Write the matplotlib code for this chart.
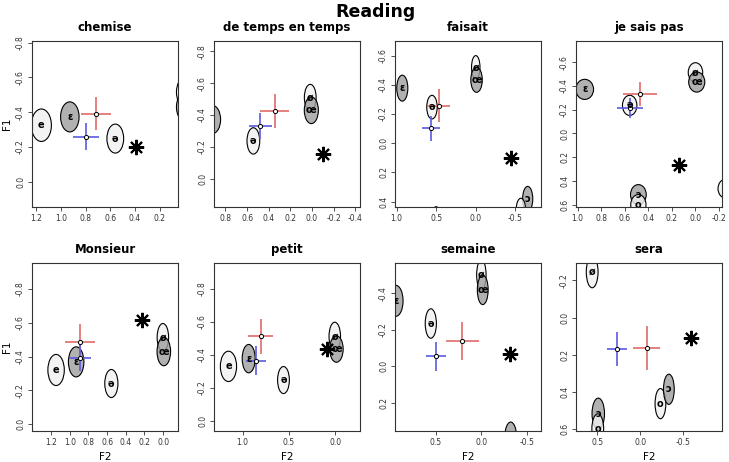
import matplotlib
matplotlib.use('Agg')
import matplotlib.pyplot as plt
from matplotlib.patches import Ellipse
from matplotlib.ticker import FormatStrFormatter

words = ['chemise', 'de temps en temps', 'faisait', 'je sais pas',
         'Monsieur', 'petit', 'semaine', 'sera']

x_limits = [(1.235, 0.05), (0.906, -0.444), (1.02, -0.824), (1.014, -0.229),
            (1.405, -0.159), (1.309, -0.265), (0.943, -0.651), (0.747, -0.951)]
y_limits = [(0.146, -0.81), (0.176, -0.864), (0.437, -0.70), (0.62, -0.78),
            (0.04, -0.954), (0.063, -0.956), (0.354, -0.565), (0.609, -0.293)]
x_ticks = [[1.2, 1.0, 0.8, 0.6, 0.4, 0.2],
           [0.8, 0.6, 0.4, 0.2, 0.0, -0.2, -0.4],
           [1.0, 0.5, 0.0, -0.5],
           [1.0, 0.8, 0.6, 0.4, 0.2, 0.0, -0.2],
           [1.2, 1.0, 0.8, 0.6, 0.4, 0.2, 0.0],
           [1.0, 0.5, 0.0],
           [0.5, 0.0, -0.5],
           [0.5, 0.0, -0.5]]
y_ticks = [[-0.8, -0.6, -0.4, -0.2, 0.0],
           [-0.8, -0.6, -0.4, -0.2, 0.0],
           [-0.6, -0.4, -0.2, 0.0, 0.2, 0.4],
           [-0.6, -0.4, -0.2, 0.0, 0.2, 0.4, 0.6],
           [-0.8, -0.6, -0.4, -0.2, 0.0],
           [-0.8, -0.6, -0.4, -0.2, 0.0],
           [-0.4, -0.2, 0.0, 0.2],
           [-0.2, 0.0, 0.2, 0.4, 0.6]]

# reader means (red) with spread
red_f2 = [0.716, 0.346, 0.467, 0.469, 0.89, 0.807, 0.207, -0.075]
red_f1 = [-0.392, -0.424, -0.258, -0.332, -0.485, -0.511, -0.138, 0.162]
red_f2_err = [0.125, 0.135, 0.147, 0.144, 0.159, 0.135, 0.183, 0.157]
red_f1_err = [0.095, 0.106, 0.11, 0.103, 0.11, 0.104, 0.104, 0.118]

blue_f2 = [0.798, 0.477, 0.565, 0.557, 0.893, 0.855, 0.496, 0.273]
blue_f1 = [-0.26, -0.33, -0.101, -0.214, -0.393, -0.364, -0.055, 0.167]
blue_f2_err = [0.106, 0.106, 0.113, 0.11, 0.118, 0.109, 0.11, 0.114]
blue_f1_err = [0.077, 0.083, 0.088, 0.085, 0.08, 0.086, 0.079, 0.092]

star_f2 = [0.393, -0.103, -0.449, 0.14, 0.223, 0.087, -0.31, -0.586]
star_f1 = [-0.2, -0.159, 0.103, 0.27, -0.617, -0.434, -0.065, 0.112]

# vowel ellipses: label, F2, F1, width, height, shade
chemise_vowels = [('e', 1.159, -0.325, 0.163, 0.187, 'light'),
                  ('ɛ', 0.928, -0.373, 0.15, 0.173, 'dark'),
                  ('ə', 0.559, -0.248, 0.136, 0.167, 'light'),
                  ('ø', 0.0, -0.515, 0.125, 0.165, 'light'),
                  ('œ', -0.01, -0.43, 0.145, 0.17, 'dark')]
de_temps_vowels = [('ɛ', 0.92, -0.372, 0.15, 0.176, 'dark'),
                   ('ə', 0.542, -0.238, 0.118, 0.165, 'light'),
                   ('ø', 0.016, -0.51, 0.109, 0.165, 'light'),
                   ('œ', 0.006, -0.43, 0.13, 0.167, 'dark')]
faisait_vowels = [('ɛ', 0.928, -0.377, 0.14, 0.178, 'dark'),
                  ('ə', 0.553, -0.247, 0.132, 0.162, 'light'),
                  ('ø', 0.0, -0.52, 0.107, 0.16, 'light'),
                  ('œ', -0.01, -0.434, 0.145, 0.171, 'dark'),
                  ('o', 0.50, 0.515, 0.12, 0.16, 'light'),
                  ('ɔ', -0.656, 0.381, 0.128, 0.17, 'dark'),
                  ('o', -0.57, 0.457, 0.12, 0.16, 'light')]
je_sais_vowels = [('ɛ', 0.94, -0.372, 0.151, 0.17, 'dark'),
                  ('ə', 0.557, -0.237, 0.123, 0.17, 'light'),
                  ('ø', -0.003, -0.515, 0.123, 0.164, 'light'),
                  ('œ', -0.014, -0.434, 0.137, 0.17, 'dark'),
                  ('ɔ', 0.483, 0.516, 0.134, 0.17, 'dark'),
                  ('o', 0.483, 0.6, 0.13, 0.17, 'light'),
                  ('o', -0.26, 0.465, 0.13, 0.16, 'light')]
monsieur_vowels = [('e', 1.147, -0.321, 0.176, 0.184, 'light'),
                   ('ɛ', 0.932, -0.369, 0.166, 0.178, 'dark'),
                   ('ə', 0.555, -0.241, 0.141, 0.166, 'light'),
                   ('ø', 0.003, -0.514, 0.123, 0.164, 'light'),
                   ('œ', -0.007, -0.43, 0.145, 0.168, 'dark')]
petit_vowels = [('e', 1.153, -0.329, 0.175, 0.184, 'light'),
                ('ɛ', 0.935, -0.376, 0.14, 0.172, 'dark'),
                ('ə', 0.56, -0.246, 0.127, 0.164, 'light'),
                ('ø', 0.007, -0.511, 0.124, 0.172, 'light'),
                ('œ', -0.011, -0.434, 0.145, 0.16, 'dark')]
semaine_vowels = [('ɛ', 0.935, -0.358, 0.16, 0.17, 'dark'),
                  ('ə', 0.552, -0.234, 0.122, 0.161, 'light'),
                  ('ø', 0.0, -0.5, 0.103, 0.165, 'light'),
                  ('œ', -0.015, -0.418, 0.118, 0.161, 'dark'),
                  ('ɔ', -0.32, 0.39, 0.13, 0.17, 'dark')]
sera_vowels = [('ø', 0.559, -0.245, 0.137, 0.17, 'light'),
               ('ɔ', 0.488, 0.516, 0.145, 0.167, 'dark'),
               ('o', 0.494, 0.597, 0.137, 0.16, 'light'),
               ('o', -0.235, 0.462, 0.125, 0.162, 'light'),
               ('ɔ', -0.333, 0.385, 0.125, 0.162, 'dark')]

all_vowels = [chemise_vowels, de_temps_vowels, faisait_vowels, je_sais_vowels,
              monsieur_vowels, petit_vowels, semaine_vowels, sera_vowels]

shades = {'light': (0.94, 0.94, 0.94, 0.8), 'dark': (0.62, 0.62, 0.62, 0.8)}

W, H = 729, 462
fig = plt.figure(figsize=(W / 100, H / 100), dpi=100)
col_left = [32, 214, 395, 576]
row_top = [41, 263]
row_bot = [207, 431]
ax_w = 146


def inside(v, lim):
    return min(lim) <= v <= max(lim)


for i, word in enumerate(words):
    r, c = divmod(i, 4)
    ax = fig.add_axes([col_left[c] / W, 1 - row_bot[r] / H,
                       ax_w / W, (row_bot[r] - row_top[r]) / H])

    for lab, f2, f1, w, h, shade in all_vowels[i]:
        ax.add_patch(Ellipse((f2, f1), w, h, facecolor=shades[shade],
                             edgecolor='black', lw=0.8))
        # only label ellipses whose centre is in view
        if inside(f2, x_limits[i]) and inside(f1, y_limits[i]):
            ax.text(f2, f1, lab, ha='center', va='center', fontsize=7,
                    fontweight='bold', clip_on=True)

    ax.errorbar(red_f2[i], red_f1[i], xerr=red_f2_err[i], yerr=red_f1_err[i],
                fmt='o', ms=3, mfc='white', mec='black', mew=0.7,
                ecolor='#e06a6a', elinewidth=1.2, capsize=0)
    ax.errorbar(blue_f2[i], blue_f1[i], xerr=blue_f2_err[i], yerr=blue_f1_err[i],
                fmt='o', ms=3, mfc='white', mec='black', mew=0.7,
                ecolor='#5a5ae0', elinewidth=1.2, capsize=0)
    ax.plot(star_f2[i], star_f1[i], marker=(8, 2, 0), ms=11, mew=1.5,
            color='black', ls='none')

    ax.set_xlim(x_limits[i])
    ax.set_ylim(y_limits[i])
    ax.set_xticks(x_ticks[i])
    ax.set_yticks(y_ticks[i])
    ax.xaxis.set_major_formatter(FormatStrFormatter('%.1f'))
    ax.yaxis.set_major_formatter(FormatStrFormatter('%.1f'))
    ax.tick_params(labelsize=5.5, length=3, width=0.6, colors='#333333', pad=2)
    for t in ax.get_yticklabels():
        t.set_rotation(90)
        t.set_va('center')
    for s in ax.spines.values():
        s.set_linewidth(0.8)
        s.set_color('#333333')

    ax.set_title(word, fontsize=8.5, fontweight='bold', pad=7)
    if c == 0:
        ax.set_ylabel('F1', fontsize=7.5, labelpad=3)
    if r == 1:
        ax.set_xlabel('F2', fontsize=7.5, labelpad=4)

fig.text(0.515, 1 - 12 / H, 'Reading', ha='center', va='center',
         fontsize=12.5, fontweight='bold')

plt.savefig('out.png', dpi=100)
